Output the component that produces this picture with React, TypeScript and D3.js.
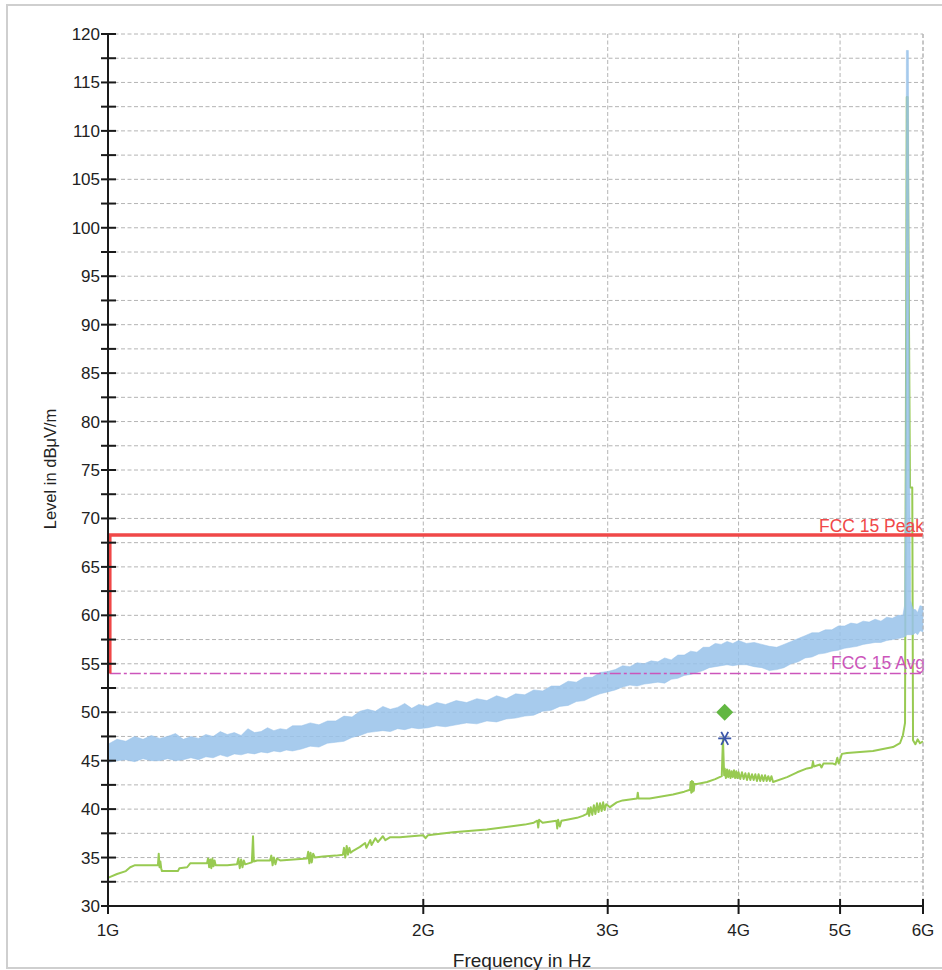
import React from "react";
import * as d3 from "d3";

// ---------- data ----------
const xTickValues = [1, 2, 3, 4, 5, 6]; // GHz
const xTickLabels = ["1G", "2G", "3G", "4G", "5G", "6G"];
const yMajorTicks = [30, 35, 40, 45, 50, 55, 60, 65, 70, 75, 80, 85, 90, 95, 100, 105, 110, 115, 120];
const yMinorTicks = [32.5, 37.5, 42.5, 47.5, 52.5, 57.5, 62.5, 67.5, 72.5, 77.5, 82.5, 87.5, 92.5, 97.5, 102.5, 107.5, 112.5, 117.5];

// Peak trace (light blue band): frequency (GHz), upper / lower envelope (dBµV/m)
const peakFreq = [
  1.00, 1.02, 1.04, 1.06, 1.08, 1.10, 1.12, 1.14, 1.16, 1.18, 1.20, 1.22, 1.24, 1.26, 1.28, 1.30, 1.32, 1.34, 1.36, 1.38, 1.40, 1.42, 1.44, 1.46, 1.48, 1.50,
  1.53, 1.56, 1.59, 1.62, 1.65, 1.68, 1.71, 1.74, 1.77, 1.80, 1.83, 1.86, 1.89, 1.92, 1.95, 1.98,
  2.02, 2.06, 2.10, 2.15, 2.20, 2.25, 2.30, 2.35, 2.40, 2.45, 2.50, 2.55, 2.60, 2.65, 2.70, 2.75, 2.80, 2.85, 2.90, 2.95, 3.00,
  3.05, 3.10, 3.15, 3.20, 3.25, 3.30, 3.35, 3.40, 3.45, 3.50, 3.55, 3.60, 3.65, 3.70, 3.75, 3.80, 3.85, 3.90, 3.95, 4.00,
  4.07, 4.14, 4.21, 4.28, 4.35, 4.42, 4.49, 4.56, 4.63, 4.70, 4.77, 4.84, 4.91, 4.98, 5.05, 5.12, 5.19, 5.26, 5.33, 5.40, 5.47, 5.54, 5.61, 5.68, 5.74,
  5.762, 5.775, 5.785, 5.81, 5.825, 5.84, 5.87,
  5.90, 5.93, 5.96, 6.00,
];
const peakUpper = [
  46.7, 47.2, 47.0, 47.5, 47.2, 47.6, 47.3, 47.5, 47.8, 47.2, 47.5, 47.3, 47.7, 47.5, 48.0, 47.7, 47.9, 47.6, 48.3, 47.9, 48.0, 48.4, 48.1, 48.3, 48.2, 48.6,
  48.6, 48.9, 48.7, 49.1, 49.1, 49.6, 49.5, 50.1, 50.3, 50.1, 50.6, 50.3, 50.5, 50.9, 50.4, 50.8,
  50.6, 51.0, 50.8, 51.2, 51.0, 51.4, 51.2, 51.7, 51.4, 51.9, 51.8, 52.3, 52.2, 52.7, 52.7, 53.2, 53.1, 53.6, 53.6, 54.1, 54.2,
  54.4, 54.8, 54.7, 55.1, 55.0, 55.3, 55.2, 55.6, 55.4, 55.9, 55.9, 56.3, 56.2, 56.7, 56.7, 57.1, 57.0, 57.3, 57.1, 57.4,
  57.1, 57.2, 57.0, 56.8, 56.7, 57.0, 57.3, 57.6, 57.9, 58.2, 58.2, 58.5, 58.5, 58.9, 58.9, 59.2, 59.1, 59.4, 59.3, 59.6, 59.4, 59.8, 59.7, 60.0, 60.0,
  61.0, 76.0, 118.3, 118.3, 76.0, 61.5, 60.6,
  60.6, 60.3, 61.0, 60.9,
];
const peakLower = [
  44.8, 45.0, 45.1, 44.9, 45.2, 45.0, 45.0, 45.2, 45.0, 45.1, 45.3, 45.1, 45.4, 45.3, 45.6, 45.4, 45.7, 45.6, 45.8, 45.7, 45.9, 45.8, 46.0, 45.9, 46.1, 46.0,
  46.2, 46.5, 46.4, 46.8, 46.9, 47.0, 47.4, 47.6, 47.9, 48.0, 48.1, 48.0, 48.3, 48.2, 48.4, 48.3,
  48.4, 48.6, 48.5, 48.7, 48.9, 48.8, 49.1, 49.0, 49.3, 49.4, 49.6, 49.7, 50.1, 50.2, 50.6, 50.7, 51.1, 51.2, 51.6, 51.9, 52.1,
  52.3, 52.6, 52.8, 52.7, 52.9, 53.0, 53.1, 53.0, 53.4, 53.5, 53.8, 53.9, 54.1, 54.3, 54.6, 54.7, 54.8, 54.9, 54.8, 54.9,
  54.9, 54.7, 54.6, 54.3, 54.4, 54.6, 55.0, 55.2, 55.6, 55.7, 56.0, 56.1, 56.3, 56.4, 56.6, 56.7, 56.8, 57.0, 57.1, 57.2, 57.2, 57.4, 57.5, 57.6, 57.7,
  57.8, 57.8, 58.0, 58.0, 58.0, 58.0, 58.0,
  58.2, 58.0, 58.4, 58.3,
];

// Average trace (green line)
const avgFreq = [
  1.000, 1.005, 1.02, 1.04, 1.05, 1.06, 1.116, 1.118, 1.12, 1.122, 1.124, 1.126, 1.166, 1.17, 1.19, 1.198,
  1.243, 1.246, 1.249, 1.252, 1.255, 1.258, 1.261, 1.264, 1.267, 1.279, 1.30,
  1.328, 1.332, 1.336, 1.34, 1.344, 1.348, 1.352, 1.372, 1.3755, 1.378, 1.388,
  1.428, 1.432, 1.436, 1.44, 1.445, 1.45, 1.46,
  1.549, 1.553, 1.557, 1.561, 1.565, 1.57, 1.576, 1.604, 1.65, 1.676,
  1.68, 1.685, 1.69, 1.695, 1.70, 1.705, 1.714, 1.74, 1.76, 1.765, 1.78, 1.785, 1.80, 1.81, 1.83, 1.84, 1.86, 1.871, 1.90,
  2.00, 2.01, 2.02, 2.135, 2.30, 2.42, 2.50, 2.55, 2.57, 2.575, 2.58, 2.60, 2.68, 2.685, 2.69, 2.70, 2.71, 2.743, 2.804, 2.84,
  2.866, 2.875, 2.88, 2.89, 2.90, 2.91, 2.92, 2.93, 2.94, 2.95, 2.96, 2.97, 2.98, 2.99, 3.015, 3.06, 3.10, 3.20, 3.205, 3.21, 3.29, 3.463, 3.55,
  3.595, 3.60, 3.605, 3.61, 3.615, 3.62, 3.625, 3.63, 3.65, 3.732, 3.80, 3.855, 3.865, 3.875,
  3.88, 3.89, 3.90, 3.91, 3.92, 3.93, 3.94, 3.95, 3.96, 3.97, 3.98, 3.99, 4.00, 4.015, 4.03, 4.045, 4.06, 4.075, 4.09, 4.105, 4.12, 4.135, 4.15, 4.165, 4.18, 4.195, 4.21, 4.225, 4.24, 4.255, 4.27, 4.285, 4.30, 4.315,
  4.45, 4.55, 4.65, 4.70, 4.711, 4.72, 4.784, 4.80, 4.82, 4.923, 4.95, 4.97, 4.985, 5.0, 5.02, 5.077, 5.375, 5.617, 5.704, 5.74,
  5.7675, 5.79, 5.80, 5.831, 5.86, 5.87, 5.90, 5.93, 5.96, 6.0,
];
const avgLevel = [
  32.9, 33.0, 33.3, 33.6, 34.0, 34.2, 34.2, 35.4, 34.0, 34.6, 33.9, 33.6, 33.6, 33.9, 34.0, 34.4,
  34.4, 34.9, 34.0, 34.8, 33.9, 34.9, 34.1, 34.7, 34.2, 34.2, 34.2,
  34.3, 34.9, 33.9, 34.8, 34.0, 34.7, 34.3, 34.5, 37.2, 34.6, 34.7,
  34.7, 35.2, 34.2, 35.0, 34.3, 34.9, 34.7,
  34.9, 35.6, 34.4, 35.5, 34.5, 35.4, 35.0, 35.1, 35.2, 35.3,
  36.0, 35.0, 36.2, 35.3, 36.0, 35.5, 35.7, 36.1, 36.5, 36.0, 36.8, 36.3, 37.0, 36.6, 37.2, 36.8, 37.1, 37.1, 37.1,
  37.3, 37.0, 37.3, 37.6, 37.9, 38.2, 38.4, 38.6, 38.8, 38.1, 38.9, 38.6, 38.8, 38.0, 38.9, 38.2, 38.8, 38.9, 39.1, 39.3,
  39.5, 40.1, 39.3, 40.2, 39.4, 40.4, 39.5, 40.6, 39.7, 40.6, 39.8, 40.7, 39.9, 40.5, 40.2, 40.7, 40.9, 41.1, 41.7, 41.1, 41.1, 41.5, 41.8,
  42.0, 42.8, 41.7, 42.9, 41.8, 42.8, 41.9, 42.6, 42.6, 42.8, 43.1, 43.4, 47.3, 43.5,
  44.2, 43.2, 44.1, 43.3, 44.0, 43.2, 43.9, 43.3, 44.0, 43.2, 43.9, 43.2, 43.8, 43.1, 43.8, 43.1, 43.7, 43.0, 43.7, 43.0, 43.6, 43.0, 43.6, 42.9, 43.6, 42.9, 43.5, 42.9, 43.5, 42.9, 43.4, 42.9, 43.4, 42.8,
  43.3, 43.8, 44.2, 44.3, 44.9, 44.4, 44.6, 44.3, 44.7, 44.7, 44.6, 45.3, 44.7, 45.1, 45.7, 45.8, 46.0, 46.4, 46.8, 47.6,
  48.9, 113.5, 113.5, 73.2, 73.2, 47.1, 46.7, 47.2, 46.8, 47.0,
];

// Limit lines
const peakLimitFreq = [1.004, 1.004, 6.0];
const peakLimitLevel = [54.0, 68.3, 68.3];
const avgLimitFreq = [1.004, 6.0];
const avgLimitLevel = [54.0, 54.0];
const limitLabels = ["FCC 15 Peak", "FCC 15 Avg"];

// Final measurement markers
const markerFreq = [3.88];
const markerPeak = [50.0];
const markerAvg = [47.3];

// ---------- layout ----------
const W = 942;
const H = 970;
const left = 108;
const right = 923;
const top = 34;
const bottom = 906;

export default function App() {
  const x = d3.scaleLog().domain([1, 6]).range([left, right]);
  const y = d3.scaleLinear().domain([30, 120]).range([bottom, top]);

  const peakData = peakFreq.map((f, i) => ({ f, hi: peakUpper[i], lo: peakLower[i] }));
  const area = d3
    .area<{ f: number; hi: number; lo: number }>()
    .x((d) => x(d.f))
    .y0((d) => y(d.lo))
    .y1((d) => y(d.hi));

  const line = d3
    .line<[number, number]>()
    .x((d) => x(d[0]))
    .y((d) => y(d[1]));

  const avgPath = line(avgFreq.map((f, i) => [f, avgLevel[i]]));
  const peakLimitPath = line(peakLimitFreq.map((f, i) => [f, peakLimitLevel[i]]));
  const avgLimitPath = line(avgLimitFreq.map((f, i) => [f, avgLimitLevel[i]]));

  const gridColor = "#b4b4b4";
  const font = "Arial, 'Liberation Sans', sans-serif";

  return (
    <svg
      width={W}
      height={H}
      style={{ position: "absolute", left: 0, top: 0, background: "#fff" }}
      fontFamily={font}
    >
      <rect x={7} y={5} width={960} height={963} fill="#fff" stroke="#cfcfcf" strokeWidth={2} />

      {/* horizontal grid */}
      {[...yMajorTicks, ...yMinorTicks]
        .filter((v) => v > 30)
        .map((v) => (
          <line
            key={"hg" + v}
            x1={left}
            x2={right}
            y1={y(v)}
            y2={y(v)}
            stroke={gridColor}
            strokeWidth={1}
            strokeDasharray="4,2.5"
          />
        ))}
      {/* vertical grid */}
      {xTickValues
        .filter((v) => v > 1)
        .map((v) => (
          <line
            key={"vg" + v}
            x1={x(v)}
            x2={x(v)}
            y1={top}
            y2={bottom}
            stroke={gridColor}
            strokeWidth={1}
            strokeDasharray="4,2.5"
          />
        ))}

      {/* average trace (under the peak band) */}
      <path d={avgPath || ""} fill="none" stroke="#98ca52" strokeWidth={2} strokeLinejoin="round" />

      {/* peak trace band */}
      <path d={area(peakData) || ""} fill="#98c2ea" fillOpacity={0.85} stroke="#98c2ea" strokeOpacity={0.5} strokeWidth={1} />

      {/* limits */}
      <path d={avgLimitPath || ""} fill="none" stroke="#cc55bb" strokeWidth={1.6} strokeDasharray="11,3,3,3" />
      <path d={peakLimitPath || ""} fill="none" stroke="#f04848" strokeWidth={3.5} />
      <text x={right + 1} y={y(peakLimitLevel[2]) - 2.5} textAnchor="end" fontSize={17.5} fill="#f04848">
        {limitLabels[0]}
      </text>
      <text x={right + 2} y={y(avgLimitLevel[1]) - 4} textAnchor="end" fontSize={17.5} fill="#cc55bb">
        {limitLabels[1]}
      </text>

      {/* markers */}
      {markerFreq.map((f, i) => {
        const cx = x(f);
        const cyP = y(markerPeak[i]);
        const cyA = y(markerAvg[i]);
        const r = 8.5;
        return (
          <g key={"m" + i}>
            <path d={`M${cx},${cyP - r} L${cx + r},${cyP} L${cx},${cyP + r} L${cx - r},${cyP} Z`} fill="#62b742" />
            <g stroke="#3a55a8" strokeWidth={1.8}>
              <line x1={cx - 6.5} x2={cx + 6.5} y1={cyA} y2={cyA} />
              <line x1={cx - 3.5} x2={cx + 3.5} y1={cyA - 6.5} y2={cyA + 6.5} />
              <line x1={cx + 3.5} x2={cx - 3.5} y1={cyA - 6.5} y2={cyA + 6.5} />
            </g>
          </g>
        );
      })}

      {/* right dashed frame */}
      <line x1={right} x2={right} y1={top} y2={bottom} stroke={gridColor} strokeWidth={1} strokeDasharray="4,2.5" />

      {/* axes */}
      <line x1={left} x2={left} y1={top} y2={bottom + 8} stroke="#1a1a1a" strokeWidth={2} />
      <line x1={left} x2={right} y1={bottom} y2={bottom} stroke="#1a1a1a" strokeWidth={2} />
      {[...yMajorTicks, ...yMinorTicks].map((v) => (
        <line key={"yt" + v} x1={left - 7} x2={left + 8} y1={y(v)} y2={y(v)} stroke="#1a1a1a" strokeWidth={2} />
      ))}
      {yMajorTicks.map((v) => (
        <text key={"yl" + v} x={left - 8} y={y(v) + 6} textAnchor="end" fontSize={17} fill="#222">
          {v}
        </text>
      ))}
      {xTickValues.map((v, i) => (
        <g key={"xt" + v}>
          <line x1={x(v)} x2={x(v)} y1={bottom - 7} y2={bottom + 8} stroke="#1a1a1a" strokeWidth={2} />
          <text x={x(v)} y={bottom + 30} textAnchor="middle" fontSize={17} fill="#222">
            {xTickLabels[i]}
          </text>
        </g>
      ))}

      {/* axis titles */}
      <text x={522} y={967} textAnchor="middle" fontSize={19} fill="#222">
        Frequency in Hz
      </text>
      <text transform={`translate(56,469) rotate(-90)`} textAnchor="middle" fontSize={16.5} fill="#222">
        Level in dBμV/m
      </text>
    </svg>
  );
}
